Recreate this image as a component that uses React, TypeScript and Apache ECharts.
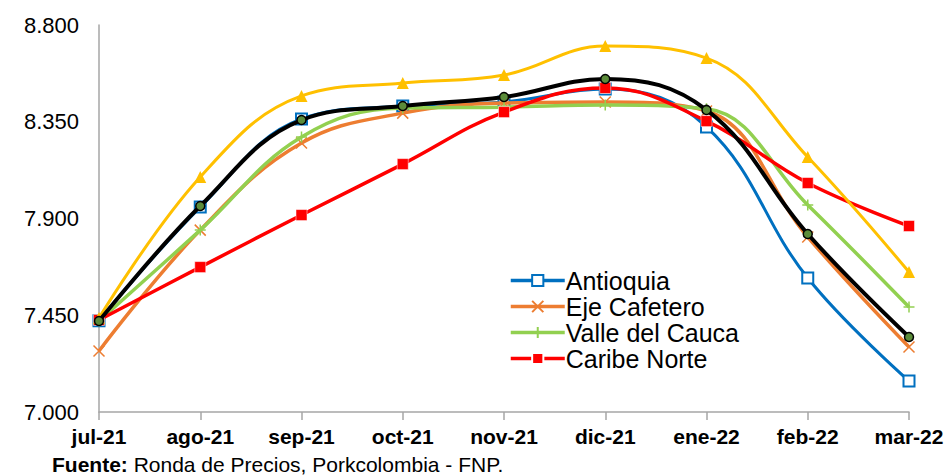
import React, { useEffect, useRef } from "react";
import * as echarts from "echarts";

const categories = ["jul-21", "ago-21", "sep-21", "oct-21", "nov-21", "dic-21", "ene-22", "feb-22", "mar-22"];
const antioquia = [7425, 7953, 8363, 8423, 8442, 8502, 8326, 7623, 7144];
const ejeCafetero = [7284, 7846, 8251, 8390, 8437, 8442, 8400, 7814, 7302];
const valleDelCauca = [7423, 7846, 8279, 8414, 8418, 8428, 8410, 7963, 7488];
const caribeNorte = [7428, 7674, 7916, 8153, 8395, 8507, 8353, 8065, 7865];
const serieAmarilla = [7437, 8093, 8470, 8530, 8567, 8702, 8646, 8186, 7651];
const nacional = [7423, 7958, 8358, 8423, 8465, 8549, 8405, 7828, 7349];
const legendNames = ["Antioquia", "Eje Cafetero", "Valle del Cauca", "Caribe Norte"];
const yTicks = { min: 7000, max: 8800, interval: 450 };

const FONT = "Arial, 'Liberation Sans', sans-serif";

function fmt(v: number): string {
  const s = Math.round(v).toString();
  return s.replace(/\B(?=(\d{3})+(?!\d))/g, ".");
}

export default function App() {
  const ref = useRef<HTMLDivElement>(null);
  useEffect(() => {
    if (!ref.current) return;
    const chart = echarts.init(ref.current, null, { renderer: "svg" });
    const smooth = 0.4;
    chart.setOption({
      animation: false,
      backgroundColor: "#ffffff",
      grid: { left: 99, right: 43, top: 25, bottom: 64, containLabel: false },
      legend: {
        data: legendNames,
        orient: "vertical",
        left: 504,
        top: 263,
        itemWidth: 54,
        itemHeight: 14,
        itemGap: 1,
        lineStyle: { width: 3.5 },
        textStyle: { fontFamily: FONT, fontSize: 25, color: "#000", lineHeight: 25, padding: [0, 0, 0, -4] },
      },
      xAxis: {
        type: "category",
        data: categories,
        boundaryGap: false,
        axisLine: { show: true, lineStyle: { color: "#a6a6a6", width: 1.5 } },
        axisTick: { show: true, length: 8, lineStyle: { color: "#a6a6a6", width: 1.5 } },
        axisLabel: { fontFamily: FONT, fontSize: 21, fontWeight: "bold", color: "#000", margin: 14 },
        splitLine: { show: false },
      },
      yAxis: {
        type: "value",
        min: yTicks.min,
        max: yTicks.max,
        interval: yTicks.interval,
        axisLine: { show: true, lineStyle: { color: "#a6a6a6", width: 1.5 } },
        axisTick: { show: false },
        splitLine: { show: false },
        axisLabel: { fontFamily: FONT, fontSize: 22, color: "#000", margin: 20, formatter: (v: number) => fmt(v) },
      },
      graphic: [
        {
          type: "text",
          left: 52,
          top: 454,
          style: {
            text: "{b|Fuente:} Ronda de Precios, Porkcolombia - FNP.",
            fontFamily: FONT,
            fontSize: 21,
            fill: "#000",
            rich: { b: { fontFamily: FONT, fontSize: 21, fontWeight: "bold", fill: "#000" } },
          },
        },
      ],
      series: [
        {
          name: "Antioquia",
          type: "line",
          data: antioquia,
          smooth,
          symbol: "emptyRect",
          symbolSize: 11,
          color: "#0070c0",
          lineStyle: { color: "#0070c0", width: 3 },
          itemStyle: { color: "#0070c0", borderColor: "#0070c0", borderWidth: 1.5 },
          z: 2,
        },
        {
          name: "Eje Cafetero",
          type: "line",
          data: ejeCafetero,
          smooth,
          symbol: "path://M0,0L10,10M10,0L0,10",
          symbolSize: 11,
          color: "#ed7d31",
          lineStyle: { color: "#ed7d31", width: 3.5 },
          itemStyle: { color: "#ed7d31", borderColor: "#ed7d31", borderWidth: 1.5 },
          z: 3,
        },
        {
          name: "Valle del Cauca",
          type: "line",
          data: valleDelCauca,
          smooth,
          symbol: "path://M5,0L5,10M0,5L10,5",
          symbolSize: 11,
          color: "#92d050",
          lineStyle: { color: "#92d050", width: 3.5 },
          itemStyle: { color: "#92d050", borderColor: "#92d050", borderWidth: 1.5 },
          z: 4,
        },
        {
          name: "Caribe Norte",
          type: "line",
          data: caribeNorte,
          smooth,
          symbol: "rect",
          symbolSize: 11,
          color: "#ff0000",
          lineStyle: { color: "#ff0000", width: 3.5 },
          itemStyle: { color: "#ff0000", borderColor: "#ffffff", borderWidth: 0.5 },
          z: 5,
        },
        {
          name: "Serie amarilla",
          type: "line",
          data: serieAmarilla,
          smooth,
          symbol: "triangle",
          symbolSize: 12,
          color: "#ffc000",
          lineStyle: { color: "#ffc000", width: 3 },
          itemStyle: { color: "#ffc000" },
          z: 6,
        },
        {
          name: "Nacional",
          type: "line",
          data: nacional,
          smooth,
          symbol: "circle",
          symbolSize: 9,
          color: "#000000",
          lineStyle: { color: "#000000", width: 4 },
          itemStyle: { color: "#5b8c3a", borderColor: "#000000", borderWidth: 1.5 },
          z: 7,
        },
      ],
    });
    return () => chart.dispose();
  }, []);
  return <div ref={ref} style={{ width: 952, height: 476, position: "absolute", left: 0, top: 0 }} />;
}
